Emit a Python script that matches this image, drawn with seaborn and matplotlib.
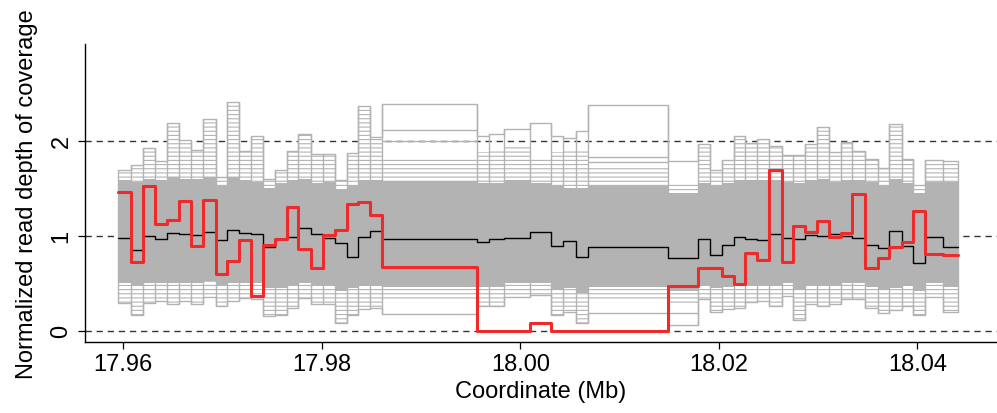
import numpy as np
import pandas as pd
import matplotlib
matplotlib.use("Agg")
import matplotlib.pyplot as plt
import seaborn as sns

# bin edges (Mb) of the coverage windows
edges_mb = [17.95950, 17.96075, 17.96202, 17.96319, 17.96437, 17.96561, 17.96682,
            17.96806, 17.96934, 17.97048, 17.97166, 17.97284, 17.97411, 17.97528,
            17.97646, 17.97763, 17.97888, 17.98007, 17.98133, 17.98251, 17.98368,
            17.98486, 17.98610, 17.99567, 17.99685, 17.99839, 18.00098, 18.00306,
            18.00433, 18.00558, 18.00679, 18.01491, 18.01787, 18.01911, 18.02029,
            18.02153, 18.02264, 18.02388, 18.02509, 18.02634, 18.02751, 18.02869,
            18.02992, 18.03113, 18.03231, 18.03345, 18.03473, 18.03601, 18.03718,
            18.03843, 18.03960, 18.04078, 18.04262, 18.04413]

# sample of interest (red)
sample_depth = [1.46, 0.72, 1.52, 1.12, 1.16, 1.36, 0.89, 1.38, 0.60, 0.73,
                0.95, 0.37, 0.90, 0.96, 1.30, 0.86, 0.66, 1.01, 1.06, 1.33,
                1.35, 1.22, 0.67, 0.00, 0.00, 0.00, 0.08, 0.00, 0.00, 0.00,
                0.00, 0.47, 0.66, 0.66, 0.58, 0.49, 0.82, 0.74, 1.69, 0.72,
                1.10, 1.04, 1.15, 0.99, 1.03, 1.44, 0.66, 0.76, 0.88, 0.93,
                1.26, 0.81, 0.80]

# median of the reference panel (black)
median_depth = [0.97, 0.85, 1.00, 0.96, 1.03, 1.02, 1.01, 1.04, 0.95, 1.06,
                1.03, 1.02, 0.88, 0.96, 0.99, 1.08, 1.02, 0.97, 0.92, 0.78,
                0.99, 1.05, 0.96, 0.93, 0.96, 0.97, 1.04, 0.89, 0.94, 0.77,
                0.88, 0.76, 0.96, 0.80, 0.90, 0.99, 0.96, 0.95, 1.02, 0.97,
                0.96, 1.01, 1.00, 1.02, 1.00, 0.98, 0.90, 0.87, 1.05, 0.89,
                0.71, 0.99, 0.88]

# reference panel (gray): extreme samples per window
panel_max = [1.69, 1.74, 1.92, 1.79, 2.18, 2.01, 1.90, 2.23, 1.62, 2.41,
             1.89, 2.05, 1.60, 1.69, 1.89, 2.07, 1.86, 1.86, 1.58, 1.87,
             2.36, 2.04, 2.38, 2.05, 2.07, 2.12, 2.19, 2.05, 2.03, 2.10,
             2.37, 1.78, 1.96, 1.69, 1.80, 2.05, 1.97, 2.02, 1.94, 1.85,
             1.85, 1.96, 2.14, 1.88, 1.98, 1.89, 1.81, 1.71, 2.17, 1.81,
             1.53, 1.80, 1.79]
panel_min = [0.29, 0.16, 0.29, 0.31, 0.28, 0.31, 0.28, 0.35, 0.26, 0.31,
             0.34, 0.33, 0.15, 0.16, 0.24, 0.34, 0.28, 0.28, 0.08, 0.16,
             0.23, 0.24, 0.18, 0.26, 0.26, 0.35, 0.38, 0.16, 0.20, 0.08,
             0.19, 0.06, 0.33, 0.20, 0.23, 0.24, 0.30, 0.31, 0.26, 0.36,
             0.11, 0.28, 0.26, 0.28, 0.33, 0.33, 0.24, 0.19, 0.22, 0.26,
             0.16, 0.35, 0.20]
# dense core of the panel
core_hi = [1.58, 1.56, 1.60, 1.58, 1.62, 1.60, 1.60, 1.62, 1.52, 1.62,
           1.58, 1.56, 1.50, 1.55, 1.58, 1.60, 1.55, 1.56, 1.48, 1.52,
           1.58, 1.58, 1.57, 1.55, 1.55, 1.58, 1.55, 1.52, 1.50, 1.50,
           1.52, 1.45, 1.55, 1.52, 1.55, 1.58, 1.58, 1.58, 1.58, 1.56,
           1.55, 1.58, 1.60, 1.56, 1.58, 1.58, 1.56, 1.52, 1.60, 1.55,
           1.45, 1.56, 1.56]
core_lo = [0.50, 0.47, 0.50, 0.50, 0.50, 0.50, 0.50, 0.52, 0.48, 0.50,
           0.50, 0.50, 0.45, 0.45, 0.47, 0.50, 0.48, 0.48, 0.42, 0.45,
           0.47, 0.47, 0.46, 0.46, 0.46, 0.50, 0.50, 0.44, 0.45, 0.40,
           0.46, 0.42, 0.48, 0.45, 0.46, 0.47, 0.48, 0.48, 0.47, 0.50,
           0.43, 0.48, 0.47, 0.48, 0.50, 0.50, 0.46, 0.44, 0.45, 0.47,
           0.42, 0.50, 0.46]
# how far the scattered sample lines reach above / below the core
lined_hi = [1.69, 1.74, 1.92, 1.79, 2.18, 2.01, 1.90, 2.23, 1.62, 2.41,
            1.89, 2.05, 1.60, 1.69, 1.89, 2.07, 1.86, 1.86, 1.58, 1.87,
            2.36, 2.04, 1.82, 1.88, 1.90, 1.95, 1.83, 1.88, 1.90, 1.90,
            1.72, 1.55, 1.96, 1.69, 1.80, 2.05, 1.97, 2.02, 1.94, 1.85,
            1.85, 1.96, 2.14, 1.88, 1.98, 1.89, 1.81, 1.71, 2.17, 1.81,
            1.53, 1.80, 1.79]
lined_lo = [0.29, 0.16, 0.29, 0.31, 0.28, 0.31, 0.28, 0.35, 0.26, 0.31,
            0.34, 0.33, 0.15, 0.16, 0.24, 0.34, 0.28, 0.28, 0.08, 0.16,
            0.23, 0.24, 0.33, 0.26, 0.26, 0.35, 0.38, 0.16, 0.20, 0.08,
            0.31, 0.28, 0.33, 0.20, 0.23, 0.24, 0.30, 0.31, 0.26, 0.36,
            0.11, 0.28, 0.26, 0.28, 0.33, 0.33, 0.24, 0.19, 0.22, 0.26,
            0.16, 0.35, 0.20]
# isolated sample lines inside the wide windows: (window index, depth)
lone_lines = [(22, 2.11), (22, 2.00), (30, 1.83), (30, 1.77), (31, 0.19)]


def close_steps(vals):
    # repeat last value so steps-post reaches the final edge
    return list(vals) + [vals[-1]]


df = pd.DataFrame({
    "coord": edges_mb,
    "sample": close_steps(sample_depth),
    "median": close_steps(median_depth),
    "pmax": close_steps(panel_max),
    "pmin": close_steps(panel_min),
    "chi": close_steps(core_hi),
    "clo": close_steps(core_lo),
    "lhi": close_steps(lined_hi),
    "llo": close_steps(lined_lo),
})

sns.set_theme(style="ticks")
plt.rcParams["font.family"] = ["Liberation Sans", "DejaVu Sans"]
GRAY = "#B3B3B3"
plt.rcParams["hatch.color"] = GRAY
plt.rcParams["hatch.linewidth"] = 0.8

fig = plt.figure(figsize=(9.97, 4.14), dpi=100)
ax = fig.add_axes([85 / 997, 71.3 / 414, 912 / 997, 297.7 / 414])

for yv in [0, 1, 2]:
    ax.axhline(yv, color="#333333", lw=1.0, ls=(0, (4.5, 3.5)), zorder=1)

# gray panel: dense core, then scattered sample lines above and below
ax.fill_between(df.coord, df.clo, df.chi, step="post", color=GRAY, lw=0, zorder=2)
ax.fill_between(df.coord, df.chi, df.lhi, step="post", facecolor="white",
                edgecolor=GRAY, hatch="----", lw=0, zorder=2)
ax.fill_between(df.coord, df.llo, df.clo, step="post", facecolor="white",
                edgecolor=GRAY, hatch="----", lw=0, zorder=2)

sns.lineplot(data=df, x="coord", y="pmax", color=GRAY, lw=1.0,
             drawstyle="steps-post", ax=ax, zorder=3)
sns.lineplot(data=df, x="coord", y="pmin", color=GRAY, lw=1.0,
             drawstyle="steps-post", ax=ax, zorder=3)

for idx, depth in lone_lines:
    ax.hlines(depth, edges_mb[idx], edges_mb[idx + 1], color=GRAY, lw=1.0, zorder=3)

# box sides at every window edge
n = len(panel_max)
vx, vlo, vhi = [], [], []
for i in range(n + 1):
    left = max(i - 1, 0)
    right = min(i, n - 1)
    vx.append(edges_mb[i])
    vlo.append(min(panel_min[left], panel_min[right]))
    vhi.append(max(panel_max[left], panel_max[right]))
ax.vlines(vx, vlo, vhi, color=GRAY, lw=1.0, zorder=3)

sns.lineplot(data=df, x="coord", y="median", color="black", lw=1.0,
             drawstyle="steps-post", ax=ax, zorder=5)
sns.lineplot(data=df, x="coord", y="sample", color="#EE2A2A", lw=2.2,
             drawstyle="steps-post", ax=ax, zorder=6)

ax.set_xlim(17.95614, 18.04803)
ax.set_ylim(-0.116, 3.016)
ax.set_xticks([17.96, 17.98, 18.00, 18.02, 18.04])
ax.set_xticklabels(["17.96", "17.98", "18.00", "18.02", "18.04"])
ax.set_yticks([0, 1, 2])
ax.set_yticklabels(["0", "1", "2"], rotation=90, va="center")
ax.tick_params(axis="both", direction="out", length=5, width=0.9,
               labelsize=17, colors="black", pad=3)
ax.tick_params(axis="y", pad=4)

sns.despine(ax=ax)
for s in ["left", "bottom"]:
    ax.spines[s].set_color("black")
    ax.spines[s].set_linewidth(1.0)

ax.set_xlabel("Coordinate (Mb)", fontsize=17, color="black")
ax.set_ylabel("Normalized read depth of coverage", fontsize=17, color="black")
ax.xaxis.set_label_coords(0.5, -0.13)
ax.yaxis.set_label_coords(-0.052, 0.5)
ax.grid(False)

fig.savefig("out.png", dpi=100)
